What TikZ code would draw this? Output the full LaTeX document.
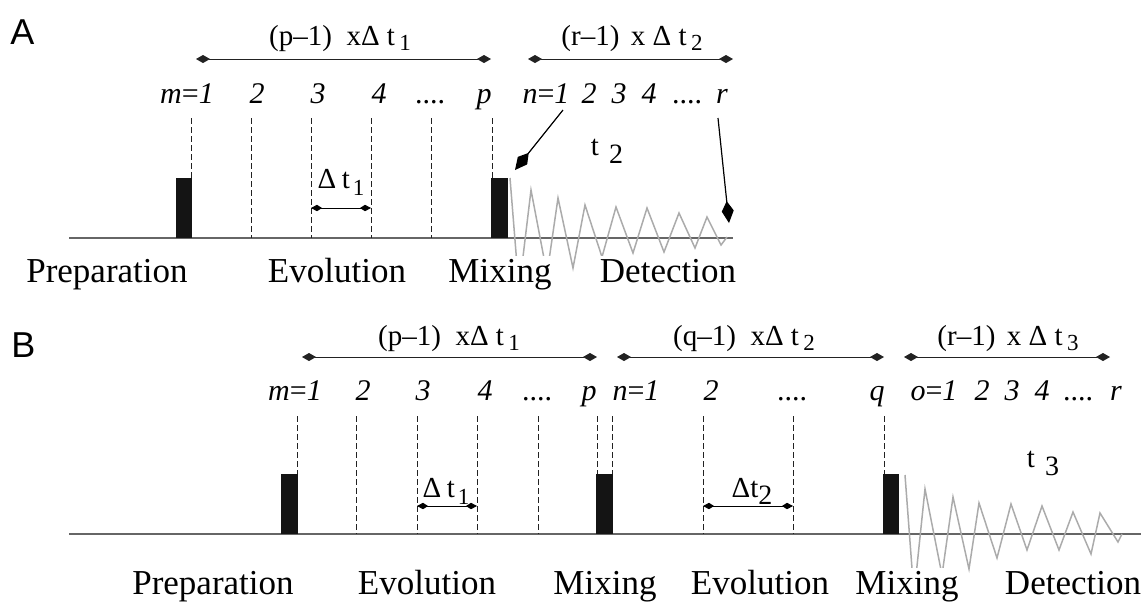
\documentclass[tikz,border=0pt]{standalone}
\usepackage{fontspec}
\setmainfont{Liberation Serif}
\newfontfamily\panelfont{Liberation Sans}
\usetikzlibrary{arrows.meta}
\definecolor{axisgray}{HTML}{666666}
\definecolor{fidgray}{HTML}{ABABAB}
\definecolor{inkgray}{HTML}{222222}
% lowered index, as in t_1
\newcommand{\lowidx}[2][2.5pt]{\raisebox{-#1}{\fontsize{11.5}{13}\selectfont #2}}
\newcommand{\fourdots}{{\upshape....}}
\tikzset{
  axisline/.style={draw=axisgray, line width=0.8pt},
  timeline/.style={draw=inkgray, dash pattern=on 3pt off 1.5pt, line width=0.45pt},
  pulse/.style={fill=black!92, draw=none},
  fid/.style={draw=fidgray, line width=0.75pt},
  span/.style={
    {Kite[length=7pt,width=4pt,inset=3.5pt]}-{Kite[length=7pt,width=4pt,inset=3.5pt]},
    draw=inkgray, line width=0.5pt
  },
  gap/.style={
    {Kite[length=5.5pt,width=3.2pt,inset=2.5pt]}-{Kite[length=5.5pt,width=3.2pt,inset=2.5pt]},
    draw=black, line width=0.5pt
  },
  pointer/.style={-{Kite[length=11pt,width=6pt,inset=5pt]}, draw=black, line width=0.6pt},
  spanlabel/.style={font=\fontsize{14.5}{17}\selectfont, anchor=base, inner sep=0pt},
  tick/.style={font=\fontsize{15}{17}\selectfont\itshape, anchor=base, inner sep=0pt},
  phase/.style={font=\fontsize{17.5}{20}\selectfont, anchor=base, fill=white, inner sep=1.5pt},
  panel/.style={font=\panelfont\fontsize{18}{20}\selectfont, anchor=base west, inner sep=0pt}
}

\begin{document}
\begin{tikzpicture}[x=0.5pt, y=-0.5pt]
\useasboundingbox (0,0) rectangle (1147,602);

% ---------- A ----------
\node[panel] (panA) at (10,44) {A};
\draw[axisline] (69,238) -- (733,238);
\foreach \x in {191,251,311,371,431,492}
  \draw[timeline] (\x,118) -- (\x,238);
\fill[pulse] (176,178) rectangle (191.6,238);
\fill[pulse] (491.4,178) rectangle (508,238);
\draw[fid] (510,178) -- (519,290) -- (531,190) -- (547,274) -- (558,198)
  -- (573,268) -- (585,205) -- (602,257) -- (616,207) -- (633,253)
  -- (647,208) -- (664,252) -- (679,213) -- (695,248) -- (707,217)
  -- (721,245) -- (727,237);

\coordinate (a1l) at (196,59);  \coordinate (a1r) at (491,59);
\coordinate (a2l) at (528,59);  \coordinate (a2r) at (733,59);
\draw[span] (a1l) -- (a1r);
\draw[span] (a2l) -- (a2r);
\node[spanlabel] (spA1) at (340,45) {(p--1)\hspace{0.5em}xΔ\hspace{0.25em}t\hspace{0.15em}\lowidx{1}};
\node[spanlabel] (spA2) at (632,45) {(r--1)\hspace{0.4em}x\hspace{0.25em}Δ\hspace{0.25em}t\hspace{0.15em}\lowidx{2}};

\foreach \x/\t [count=\i] in {187/{m\upshape=}1, 257/2, 318/3, 379/4, 430/\fourdots, 484/p,
    546/{n\upshape=}1, 589/2, 619/3, 649/4, 687/\fourdots, 722/r}
  \node[tick] (tA\i) at (\x,103) {\t};

\coordinate (dA1) at (311,208); \coordinate (dA2) at (371,208);
\draw[gap] (dA1) -- (dA2);
\node[spanlabel] (dtA) at (341,188) {Δ\hspace{0.2em}t\hspace{0.1em}\lowidx[3.5pt]{1}};
\node[spanlabel] (t2A) at (607,155) {t\hspace{0.35em}\lowidx[4pt]{\fontsize{14}{16}\selectfont 2}};

\coordinate (pn1) at (563,110); \coordinate (pn2) at (515,170);
\coordinate (pr1) at (718,118); \coordinate (pr2) at (729,223);
\draw[pointer] (pn1) -- (pn2);
\draw[pointer] (pr1) -- (pr2);

\node[phase] (prepA) at (107,282) {Preparation};
\node[phase] (evoA) at (337,282) {Evolution};
\node[phase] (mixA) at (500,282) {Mixing};
\node[phase] (detA) at (668,282) {Detection};

% ---------- B ----------
\node[panel] (panB) at (11,357) {B};
\draw[axisline] (69,534) -- (1141,534);
\foreach \x in {297,356,417,477,538,597,612,703,793,884}
  \draw[timeline] (\x,416) -- (\x,534);
\fill[pulse] (281,474) rectangle (297.6,534);
\fill[pulse] (596.4,474) rectangle (612.6,534);
\fill[pulse] (883.4,474) rectangle (899,534);
\draw[fid] (905,475) -- (914,595) -- (925,489) -- (942,575) -- (953,497)
  -- (969,569) -- (979,503) -- (997,558) -- (1011,504) -- (1027,550)
  -- (1042,506) -- (1059,550) -- (1073,512) -- (1091,554) -- (1100,513)
  -- (1118,542) -- (1122,534);

\coordinate (b1l) at (302,357); \coordinate (b1r) at (597,357);
\coordinate (b2l) at (617,357); \coordinate (b2r) at (884,357);
\coordinate (b3l) at (904,357); \coordinate (b3r) at (1110,357);
\draw[span] (b1l) -- (b1r);
\draw[span] (b2l) -- (b2r);
\draw[span] (b3l) -- (b3r);
\node[spanlabel] (spB1) at (449,345) {(p--1)\hspace{0.5em}xΔ\hspace{0.25em}t\hspace{0.15em}\lowidx{1}};
\node[spanlabel] (spB2) at (744,345) {(q--1)\hspace{0.5em}xΔ\hspace{0.25em}t\hspace{0.15em}\lowidx{2}};
\node[spanlabel] (spB3) at (1008,345) {(r--1)\hspace{0.4em}x\hspace{0.25em}Δ\hspace{0.25em}t\hspace{0.15em}\lowidx{3}};

\foreach \x/\t [count=\i] in {295/{m\upshape=}1, 363/2, 423/3, 485/4, 537/\fourdots, 589/p,
    636/{n\upshape=}1, 711/2, 792/\fourdots, 877/q,
    934/{o\upshape=}1, 982/2, 1012/3, 1042/4, 1078/\fourdots, 1116/r}
  \node[tick] (tB\i) at (\x,400) {\t};

\coordinate (dB1) at (417,506); \coordinate (dB2) at (477,506);
\coordinate (dB3) at (703,506); \coordinate (dB4) at (793,506);
\draw[gap] (dB1) -- (dB2);
\draw[gap] (dB3) -- (dB4);
\node[spanlabel] (dtB1) at (446,497) {Δ\hspace{0.2em}t\hspace{0.1em}\lowidx[3.5pt]{1}};
\node[spanlabel] (dtB2) at (752,497) {Δt\lowidx[3.5pt]{\fontsize{14}{16}\selectfont 2}};
\node[spanlabel] (t3B) at (1043,467) {t\hspace{0.35em}\lowidx[4pt]{\fontsize{14}{16}\selectfont 3}};

\node[phase] (prepB) at (213,594) {Preparation};
\node[phase] (evoB1) at (427,594) {Evolution};
\node[phase] (mixB1) at (605,594) {Mixing};
\node[phase] (evoB2) at (760,594) {Evolution};
\node[phase] (mixB2) at (907,594) {Mixing};
\node[phase] (detB) at (1073,594) {Detection};
\end{tikzpicture}
\end{document}
